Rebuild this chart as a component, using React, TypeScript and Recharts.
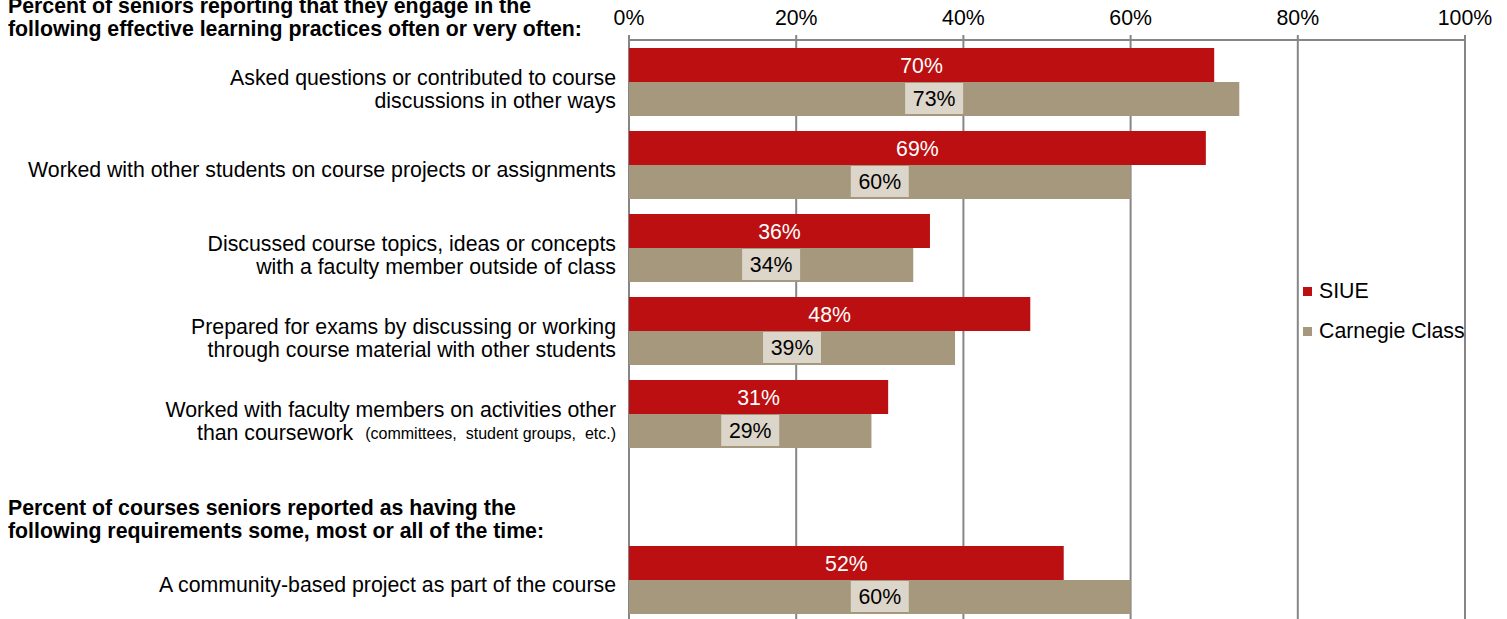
import React from 'react';
import { BarChart, Bar, XAxis, YAxis, CartesianGrid, LabelList } from 'recharts';

const rowKeys = ['asked', 'worked', 'discussed', 'prepared', 'faculty', 'section2', 'community'];
const rowLabels: string[][] = [
  ['Asked questions or contributed to course', 'discussions in other ways'],
  ['Worked with other students on course projects or assignments'],
  ['Discussed course topics, ideas or concepts', 'with a faculty member outside of class'],
  ['Prepared for exams by discussing or working', 'through course material with other students'],
  ['Worked with faculty members on activities other', 'than coursework'],
  ['Percent of courses seniors reported as having the', 'following requirements some, most or all of the time:'],
  ['A community-based project as part of the course'],
];
const rowNotes = ['', '', '', '', '(committees,  student groups,  etc.)', '', ''];
const siueValues = [70, 69, 36, 48, 31, null, 52];
const carnegieValues = [73, 60, 34, 39, 29, null, 60];
const xTicks = [0, 20, 40, 60, 80, 100];
const headerLines = [
  'Percent of seniors reporting that they engage in the',
  'following effective learning practices often or very often:',
];
const seriesNames = ['SIUE', 'Carnegie Class'];
const SECTION_ROW = 'section2';

const RED = '#bb0f11';
const TAN = '#a6987c';
const LABEL_BOX = '#dcd5c9';
const GRID = '#868686';
const FONT = '"Liberation Sans", Arial, sans-serif';
const FS = 21.3;

const data = rowKeys.map((key, i) => ({
  key,
  siue: siueValues[i],
  carnegie: carnegieValues[i],
}));

// category labels, right-aligned against the plot; the section header row is drawn bold at the left edge
const CategoryTick = (props: any) => {
  const { y, payload } = props;
  const i = rowKeys.indexOf(payload.value);
  const lines = rowLabels[i];
  if (payload.value === SECTION_ROW) {
    return (
      <text x={8} y={y + 11} fontSize={FS} fontWeight="bold" fill="#000" dominantBaseline="central">
        {lines.map((l, k) => (
          <tspan key={k} x={8} dy={k === 0 ? 0 : 23}>{l}</tspan>
        ))}
      </text>
    );
  }
  const note = rowNotes[i];
  const top = lines.length === 1 ? y + 5 : y - 4;
  return (
    <text x={616} y={top} fontSize={FS} fill="#000" textAnchor="end" dominantBaseline="central" style={{ whiteSpace: 'pre' }}>
      {lines.map((l, k) => (
        <tspan key={k} x={616} dy={k === 0 ? 0 : 23}>
          {l}
          {k === lines.length - 1 && note ? (
            <tspan fontSize={16} dx={12}>{note}</tspan>
          ) : null}
        </tspan>
      ))}
    </text>
  );
};

const SiueLabel = (props: any) => {
  const { x, y, width, height, value } = props;
  if (value == null) return null;
  return (
    <text x={x + width / 2} y={y + height / 2 + 1} fill="#fff" fontSize={FS} textAnchor="middle" dominantBaseline="central">
      {value}%
    </text>
  );
};

const CarnegieLabel = (props: any) => {
  const { x, y, width, height, value } = props;
  if (value == null) return null;
  const cx = x + width / 2;
  return (
    <g>
      <rect x={cx - 29} y={y + 1} width={58} height={height - 3} fill={LABEL_BOX} />
      <text x={cx} y={y + height / 2} fill="#000" fontSize={FS} textAnchor="middle" dominantBaseline="central">
        {value}%
      </text>
    </g>
  );
};

export default function App() {
  return (
    <div
      style={{
        position: 'fixed',
        left: 0,
        top: 0,
        width: 1507,
        height: 619,
        overflow: 'hidden',
        background: '#fff',
        fontFamily: FONT,
      }}
    >
      <div
        style={{
          position: 'absolute',
          left: 8,
          top: -5,
          fontSize: FS,
          fontWeight: 'bold',
          lineHeight: '23px',
          color: '#000',
          whiteSpace: 'nowrap',
        }}
      >
        {headerLines.map((l) => (
          <div key={l}>{l}</div>
        ))}
      </div>
      <BarChart
        width={1507}
        height={621}
        data={data}
        layout="vertical"
        margin={{ top: 0, right: 42, bottom: 0, left: 0 }}
        barGap={0}
        barSize={34}
        style={{ position: 'absolute', left: 0, top: 0 }}
      >
        <CartesianGrid horizontal={false} vertical stroke={GRID} strokeWidth={2} />
        <XAxis
          type="number"
          orientation="top"
          domain={[0, 100]}
          ticks={xTicks}
          height={40}
          tickFormatter={(v: number) => `${v}%`}
          axisLine={{ stroke: GRID, strokeWidth: 2 }}
          tickLine={{ stroke: GRID, strokeWidth: 2 }}
          tickSize={5}
          tickMargin={10}
          tick={{ fill: '#000', fontSize: FS }}
        />
        <YAxis
          type="category"
          dataKey="key"
          width={629}
          axisLine={false}
          tickLine={false}
          interval={0}
          tick={<CategoryTick />}
        />
        <Bar dataKey="siue" name={seriesNames[0]} fill={RED} isAnimationActive={false}>
          <LabelList dataKey="siue" content={<SiueLabel />} />
        </Bar>
        <Bar dataKey="carnegie" name={seriesNames[1]} fill={TAN} isAnimationActive={false}>
          <LabelList dataKey="carnegie" content={<CarnegieLabel />} />
        </Bar>
      </BarChart>
      <div style={{ position: 'absolute', left: 1303, top: 271, fontSize: FS, color: '#000' }}>
        {seriesNames.map((name, i) => (
          <div key={name} style={{ display: 'flex', alignItems: 'center', height: 40, whiteSpace: 'nowrap' }}>
            <span style={{ width: 9, height: 9, background: i === 0 ? RED : TAN, marginRight: 7 }} />
            <span>{name}</span>
          </div>
        ))}
      </div>
    </div>
  );
}
